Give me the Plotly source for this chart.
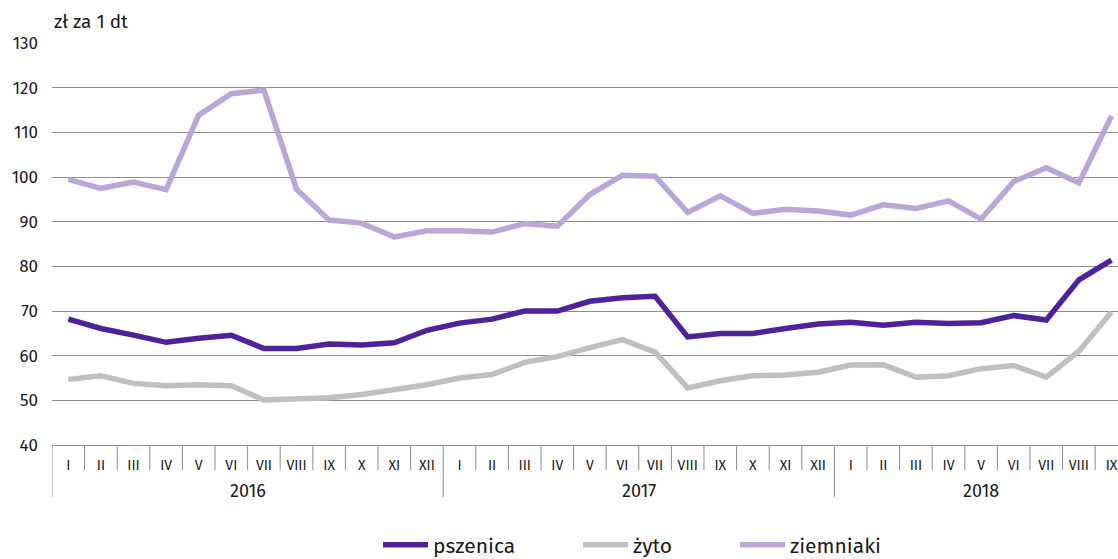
import plotly.graph_objects as go

year_labels = ["2016", "2017", "2018"]
year_lengths = [12, 12, 9]
months = ["I", "II", "III", "IV", "V", "VI", "VII", "VIII", "IX", "X", "XI", "XII"] * 2 + \
         ["I", "II", "III", "IV", "V", "VI", "VII", "VIII", "IX"]

pszenica = [68.2, 66.1, 64.6, 63.0, 63.9, 64.6, 61.6, 61.6, 62.6, 62.4, 62.9, 65.7,
            67.3, 68.2, 70.0, 70.0, 72.2, 73.0, 73.3, 64.2, 65.0, 65.0, 66.1, 67.1,
            67.5, 66.8, 67.5, 67.2, 67.4, 69.0, 68.0, 77.0, 81.4]
zyto = [54.7, 55.5, 53.8, 53.3, 53.5, 53.3, 50.1, 50.3, 50.6, 51.3, 52.3, 53.5,
        55.0, 55.8, 58.5, 59.8, 61.8, 63.6, 60.8, 52.8, 54.4, 55.5, 55.7, 56.3,
        57.9, 58.0, 55.2, 55.5, 57.1, 57.8, 55.2, 61.0, 69.8]
ziemniaki = [99.5, 97.5, 98.9, 97.2, 113.9, 118.7, 119.5, 97.3, 90.4, 89.7, 86.6, 88.0,
             88.0, 87.7, 89.6, 89.0, 96.1, 100.4, 100.2, 92.1, 95.8, 91.9, 92.8, 92.4,
             91.5, 93.8, 93.0, 94.7, 90.6, 99.0, 102.1, 98.7, 113.7]

series = [
    ("pszenica", pszenica, "#50229a", "legend", 386),
    ("żyto", zyto, "#c0c0c0", "legend2", 586),
    ("ziemniaki", ziemniaki, "#b9a7d7", "legend3", 743),
]

font_family = "Fira Sans, Noto Sans, Open Sans, sans-serif"
W, H = 1118, 559
ML, MT, MB = 52, 43, 114
PW = W - ML
PH = H - MT - MB
x = list(range(len(months)))
GRID = "#8c8c8c"

fig = go.Figure()
for name, vals, color, leg, _ in series:
    fig.add_trace(go.Scatter(
        x=x, y=vals, name=name, mode="lines", legend=leg,
        line=dict(color=color, width=5.5),
    ))

# separators of the category table
shapes = []
bounds = [0]
for n in year_lengths:
    bounds.append(bounds[-1] + n)
for k in range(len(months) + 1):
    full = k in bounds
    shapes.append(dict(type="line", xref="x", yref="paper",
                       x0=k - 0.5, x1=k - 0.5, y0=0, y1=-(52 if full else 25) / PH,
                       line=dict(color=GRID, width=1)))

annotations = [dict(text="zł za 1 dt", xref="paper", yref="paper", x=0, y=(PH + 21) / PH,
                    xanchor="left", yanchor="middle", showarrow=False,
                    font=dict(size=19, color="#1a1a1a"))]
for lab, a, b in zip(year_labels, bounds[:-1], bounds[1:]):
    annotations.append(dict(text=lab, xref="x", yref="paper", x=(a + b - 1) / 2, y=-46 / PH,
                            xanchor="center", yanchor="middle", showarrow=False,
                            font=dict(size=18, color="#1a1a1a")))

legends = {}
for i, (name, vals, color, leg, px) in enumerate(series):
    legends[leg] = dict(orientation="h", x=(px - ML - 8) / PW, xanchor="left",
                        y=-(545 - MT - PH) / PH,
                        yanchor="middle", font=dict(size=21, color="#1a1a1a"),
                        itemwidth=45, bgcolor="rgba(0,0,0,0)")

fig.update_layout(
    width=W, height=H,
    margin=dict(l=ML, r=0, t=MT, b=MB, autoexpand=False),
    paper_bgcolor="white", plot_bgcolor="white",
    font=dict(family=font_family, color="#1a1a1a"),
    showlegend=True,
    xaxis=dict(
        range=[-0.5, 32.2],
        tickvals=x, ticktext=months,
        showgrid=False, zeroline=False,
        showline=True, linecolor=GRID, linewidth=1.2,
        ticks="", ticklabelstandoff=7,
        tickfont=dict(size=14, color="#1a1a1a"),
    ),
    yaxis=dict(
        range=[40, 130.05], tickvals=[40, 50, 60, 70, 80, 90, 100, 110, 120, 130],
        showgrid=True, gridcolor=GRID, gridwidth=1.3,
        zeroline=False, showline=False, ticks="",
        tickfont=dict(size=17, color="#1a1a1a"),
        ticklabelstandoff=13,
    ),
    shapes=shapes,
    annotations=annotations,
    **legends,
)

fig.write_html("out.html", config={"displayModeBar": False},
               post_script="document.body.style.margin='0';")
